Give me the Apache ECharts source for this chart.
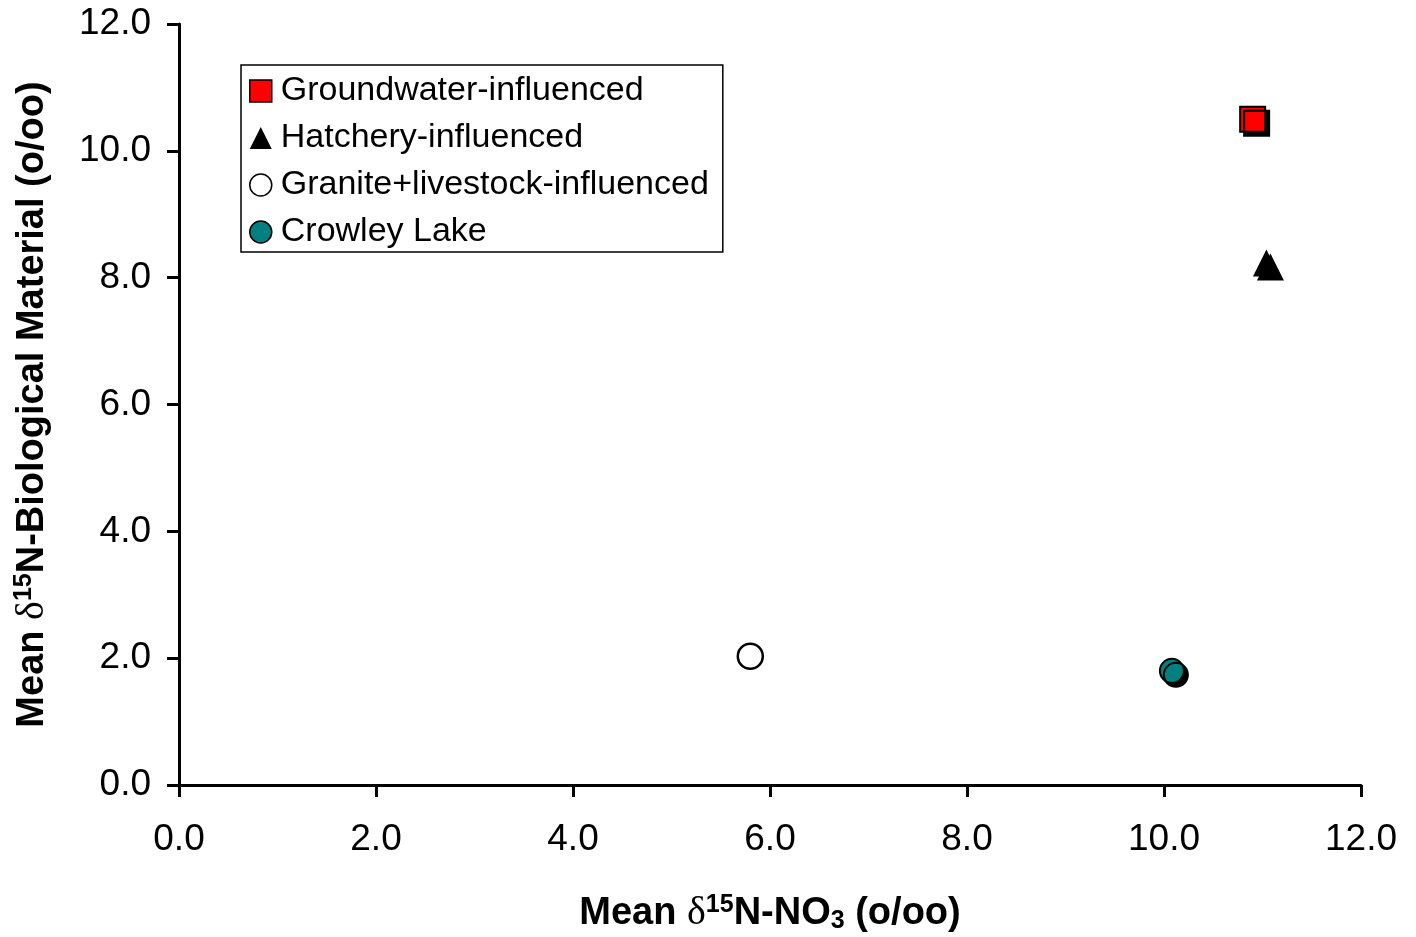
<!DOCTYPE html>
<html><head><meta charset="utf-8">
<script src="https://cdn.jsdelivr.net/npm/echarts@6/dist/echarts.min.js"></script>
<style>html,body{margin:0;padding:0;background:#fff}#c{width:1416px;height:937px}</style>
</head><body><div id="c"></div>
<script>
const seriesNames = ['Groundwater-influenced','Hatchery-influenced','Granite+livestock-influenced','Crowley Lake'];
const groundwater = [[10.90, 10.50]];
const hatchery = [[11.04, 8.23]];
const granite = [[5.80, 2.03]];
const crowley = [[10.08, 1.80]];
const axisTicks = [0, 2, 4, 6, 8, 10, 12];

const font = 'Liberation Sans, Arial, sans-serif';
const serif = 'Liberation Serif, Times New Roman, serif';
const chart = echarts.init(document.getElementById('c'));
const shadow = {shadowColor:'#000', shadowBlur:0, shadowOffsetX:4, shadowOffsetY:4};
const axisCommon = {
  min: axisTicks[0], max: axisTicks[axisTicks.length-1], interval: 2,
  axisLine:{show:true, lineStyle:{color:'#000', width:3}},
  axisTick:{show:true, inside:false, length:12, lineStyle:{color:'#000', width:3}},
  splitLine:{show:false},
  axisLabel:{color:'#000', fontSize:37, fontFamily:font, formatter:v=>v.toFixed(1)}
};
const titleRich = {
  b:{fontSize:38, fontWeight:'bold', fontFamily:font, color:'#000'},
  d:{fontSize:40, fontWeight:'normal', fontFamily:serif, color:'#000'},
  sup:{fontSize:25, fontWeight:'bold', fontFamily:font, color:'#000', verticalAlign:'top', padding:[0,0,16,0]},
  sub:{fontSize:25, fontWeight:'bold', fontFamily:font, color:'#000', verticalAlign:'bottom', padding:[16,0,0,0]}
};
chart.setOption({
  animation:false,
  backgroundColor:'#fff',
  grid:{left:179, right:55, top:24, bottom:152, containLabel:false, outerBoundsMode:'none'},
  xAxis:Object.assign({}, axisCommon, {
    type:'value', position:'bottom',
    axisLabel:Object.assign({}, axisCommon.axisLabel, {margin:36}),
    name:'{b|Mean }{d|δ}{sup|15}{b|N-NO}{sub|3}{b| (o/oo)}',
    nameLocation:'middle', nameGap:108,
    nameTextStyle:{rich:titleRich}
  }),
  yAxis:Object.assign({}, axisCommon, {
    type:'value', position:'left',
    axisLabel:Object.assign({}, axisCommon.axisLabel, {margin:28}),
    name:'{b|Mean }{d|δ}{sup|15}{b|N-Biological Material (o/oo)}',
    nameLocation:'middle', nameGap:126, nameRotate:90,
    nameTextStyle:{rich:titleRich}
  }),
  legend:{
    orient:'vertical', left:241, top:65,
    padding:[9,14,3,8], itemGap:13, itemWidth:22, itemHeight:22,
    borderColor:'#000', borderWidth:1.5,
    textStyle:{fontSize:34, lineHeight:34, fontFamily:font, color:'#000', padding:[0,0,0,4]},
    data:[
      {name:seriesNames[0], icon:'rect', itemStyle:{color:'#ff0000', borderColor:'#000', borderWidth:1.5, shadowColor:'transparent'}},
      {name:seriesNames[1], icon:'triangle', itemStyle:{color:'#000', shadowColor:'transparent'}},
      {name:seriesNames[2], icon:'circle', itemStyle:{color:'#fff', borderColor:'#000', borderWidth:1.5, shadowColor:'transparent'}},
      {name:seriesNames[3], icon:'circle', itemStyle:{color:'#008080', borderColor:'#000', borderWidth:1.5, shadowColor:'transparent'}}
    ]
  },
  series:[
    {name:seriesNames[0], type:'scatter', data:groundwater, symbol:'rect', symbolSize:25,
     itemStyle:Object.assign({color:'#ff0000', borderColor:'#000', borderWidth:2, opacity:1}, shadow)},
    {name:seriesNames[1], type:'scatter', data:hatchery, symbol:'triangle', symbolSize:[27,27],
     itemStyle:Object.assign({color:'#000', opacity:1}, shadow)},
    {name:seriesNames[2], type:'scatter', data:granite, symbol:'circle', symbolSize:25,
     itemStyle:{color:'#fff', borderColor:'#000', borderWidth:2.5, opacity:1}},
    {name:seriesNames[3], type:'scatter', data:crowley, symbol:'circle', symbolSize:24,
     itemStyle:Object.assign({color:'#008080', borderColor:'#000', borderWidth:2, opacity:1}, shadow)}
  ]
});
</script></body></html>
